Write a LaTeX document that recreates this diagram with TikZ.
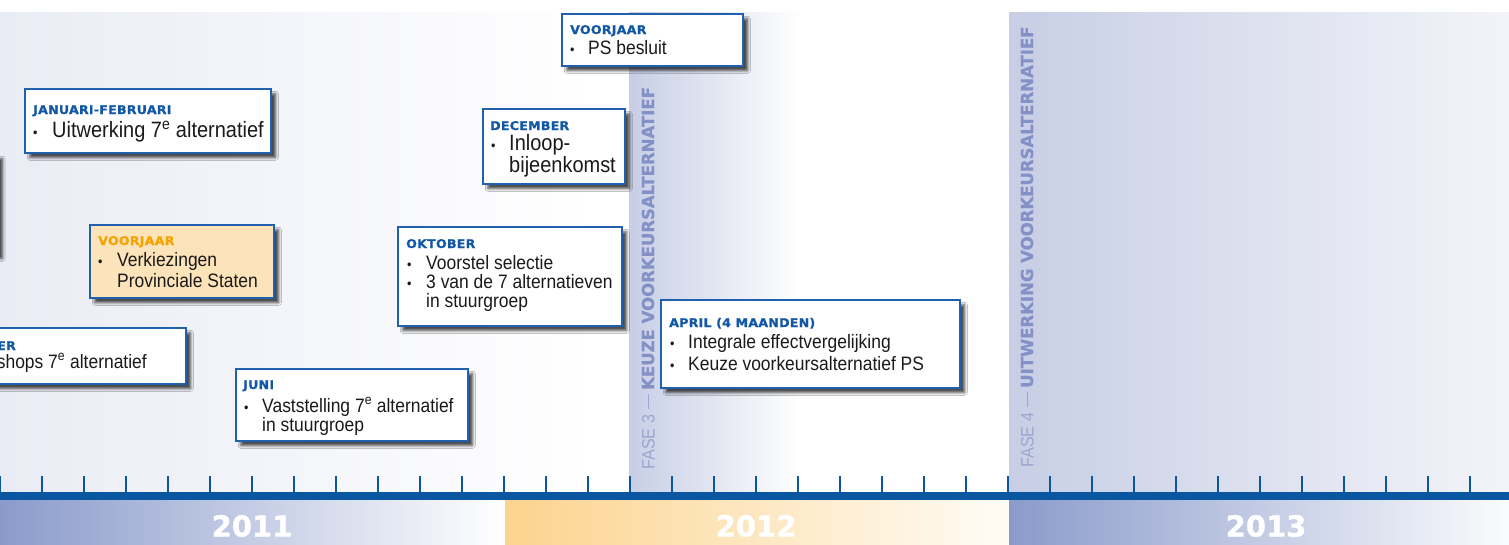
\documentclass[tikz,border=0pt]{standalone}
\usepackage{fontspec}
\setmainfont{Liberation Sans}[FakeStretch=0.9]
\newfontfamily\hdfont{DejaVu Sans}[FakeStretch=1.05,LetterSpace=2,BoldFeatures={FakeBold=0.8}]
\newfontfamily\phfont{DejaVu Sans}[BoldFeatures={FakeBold=0.6}]
\newfontfamily\yrfont{DejaVu Sans}[BoldFeatures={FakeBold=1.2}]
\newfontfamily\phlfont{Liberation Sans}[FakeStretch=0.9]
\usetikzlibrary{shadows.blur}
\definecolor{hdblue}{HTML}{1257A5}
\definecolor{bordblue}{HTML}{2160AC}
\definecolor{tlblue}{HTML}{0A56A0}
\definecolor{orhd}{HTML}{F5A300}
\definecolor{orfill}{HTML}{FDE3B9}
\definecolor{bgl}{HTML}{EAECF5}
\definecolor{band}{HTML}{C7CEE5}
\definecolor{bandend}{HTML}{F3F4F9}
\definecolor{yb}{HTML}{8A9BCB}
\definecolor{yo}{HTML}{FCD38E}
\definecolor{yoend}{HTML}{FFFCF6}
\definecolor{phlight}{HTML}{9CA7D0}
\definecolor{phbold}{HTML}{8491C6}
\definecolor{txt}{HTML}{1A1A1A}
\begin{document}
\begin{tikzpicture}[x=1pt,y=-1pt,
  evbox/.style={draw=bordblue, line width=1.5pt, fill=white, inner sep=0pt, anchor=north west,
    blur shadow={shadow xshift=5pt, shadow yshift=-5pt, shadow blur radius=2.5pt, shadow opacity=70}},
  hd/.style={font=\hdfont\bfseries\fontsize{12}{12}\selectfont, text=hdblue, anchor=base west, inner sep=0pt},
  bl/.style={font=\fontsize{14}{14}\selectfont, text=txt, anchor=base west, inner sep=0pt},
  tx/.style={font=\fontsize{19.4}{20}\selectfont, text=txt, anchor=base west, inner sep=0pt},
  txl/.style={font=\fontsize{22.2}{22}\selectfont, text=txt, anchor=base west, inner sep=0pt},
  year/.style={font=\yrfont\bfseries\fontsize{29}{30}\selectfont, text=white, inner sep=0pt},
  phl/.style={font=\phlfont\fontsize{18}{18}\selectfont, text=phlight, rotate=90, anchor=base west, inner sep=0pt},
  phb/.style={font=\phfont\bfseries\fontsize{16.5}{17}\selectfont, text=phbold, rotate=90, anchor=base west, inner sep=0pt},
  sep/.style={draw=phlight, line width=0.8pt},
  tick/.style={draw=tlblue, line width=2pt}
]
\useasboundingbox (0,0) rectangle (1509,544);
\clip (0,0) rectangle (1509,544);
\fill[white] (0,0) rectangle (1509,544);
% backgrounds
\shade[left color=bgl, right color=white] (0,12) rectangle (600,492);
\shade[left color=band, right color=white] (629,12) rectangle (800,492);
\shade[left color=band, right color=bandend] (1009,12) rectangle (1509,492);
% year bars
\shade[left color=yb, right color=white] (0,500) rectangle (505,544);
\shade[left color=yo, right color=yoend] (505,500) rectangle (1009,544);
\shade[left color=yb, right color=white!97!yb] (1009,500) rectangle (1509,544);
\node[year] (y2011) at (252,526) {2011};
\node[year] (y2012) at (756,526) {2012};
\node[year] (y2013) at (1266,526) {2013};
% timeline
\fill[tlblue] (0,492) rectangle (1509,500);
\foreach \k in {0,...,35} { \draw[tick] (42*\k,476) -- (42*\k,493); }
% phase labels
\node[phl] (f3) at (654.5,470) {FASE 3};
\draw[sep] (648,394) -- (648,409);
\node[phb] (k3) at (654,390) {KEUZE VOORKEURSALTERNATIEF};
\node[phl] (f4) at (1033.5,468) {FASE 4};
\draw[sep] (1027,392) -- (1027,407);
\node[phb] (k4) at (1033,388) {UITWERKING VOORKEURSALTERNATIEF};
% off-image box (only shadow visible)
\node[evbox, minimum width=77pt, minimum height=100pt] (off) at (-80,153) {};
% A
\node[evbox, minimum width=246pt, minimum height=64pt] (jf) at (24,88) {};
\node[hd] (jf-h) at (33,114) {JANUARI-FEBRUARI};
\node[bl] (jf-b) at (33,137) {•};
\node[txl] (jf-t) at (52,137) {Uitwerking 7\textsuperscript{e} alternatief};
% B
\node[evbox, fill=orfill, minimum width=184pt, minimum height=73pt] (vj1) at (89,224) {};
\node[hd, text=orhd] (vj1-h) at (98,245) {VOORJAAR};
\node[bl] (vj1-b) at (98,266) {•};
\node[tx] (vj1-t1) at (117,266) {Verkiezingen};
\node[tx] (vj1-t2) at (117,287) {Provinciale Staten};
% C
\node[evbox, minimum width=205pt, minimum height=56pt] (ws) at (-20,327) {};
\node[hd, anchor=base east] (ws-h) at (16,350) {ER};
\node[tx, anchor=base east] (ws-t) at (147,368) {shops 7\textsuperscript{e} alternatief};
% D
\node[evbox, minimum width=232pt, minimum height=72pt] (jun) at (235,368) {};
\node[hd] (jun-h) at (243,389) {JUNI};
\node[bl] (jun-b) at (244,412) {•};
\node[tx] (jun-t1) at (262,412) {Vaststelling 7\textsuperscript{e} alternatief};
\node[tx] (jun-t2) at (262,431) {in stuurgroep};
% E
\node[evbox, minimum width=224pt, minimum height=99pt] (okt) at (397,226) {};
\node[hd] (okt-h) at (406,248) {OKTOBER};
\node[bl] (okt-b1) at (407,269) {•};
\node[bl] (okt-b2) at (407,288) {•};
\node[tx] (okt-t1) at (426,269) {Voorstel selectie};
\node[tx] (okt-t2) at (426,288) {3 van de 7 alternatieven};
\node[tx] (okt-t3) at (426,307) {in stuurgroep};
% F
\node[evbox, minimum width=142pt, minimum height=75pt] (dec) at (482,108) {};
\node[hd] (dec-h) at (490,130) {DECEMBER};
\node[bl] (dec-b) at (491,150) {•};
\node[txl] (dec-t1) at (509,150) {Inloop-};
\node[txl] (dec-t2) at (509,172) {bijeenkomst};
% G
\node[evbox, minimum width=181pt, minimum height=52pt] (vj2) at (561,13) {};
\node[hd] (vj2-h) at (570,34) {VOORJAAR};
\node[bl] (vj2-b) at (570,54) {•};
\node[tx] (vj2-t) at (588,54) {PS besluit};
% H
\node[evbox, minimum width=299pt, minimum height=88pt] (apr) at (660,299) {};
\node[hd] (apr-h) at (669,327) {APRIL (4 MAANDEN)};
\node[bl] (apr-b1) at (670,348) {•};
\node[bl] (apr-b2) at (670,370) {•};
\node[tx] (apr-t1) at (688,348) {Integrale effectvergelijking};
\node[tx] (apr-t2) at (688,370) {Keuze voorkeursalternatief PS};
\end{tikzpicture}
\end{document}
